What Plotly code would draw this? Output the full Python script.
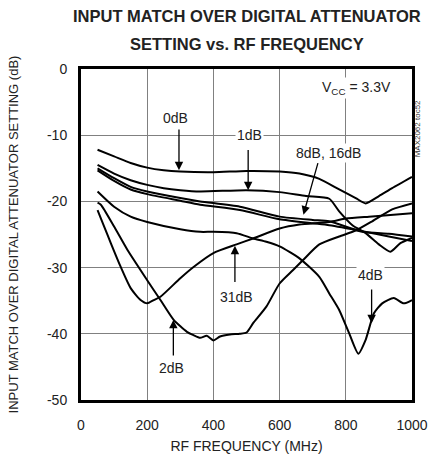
import plotly.graph_objects as go

# RF frequency (MHz) / input match (dB) per attenuator setting
freq_0db = [50, 100, 150, 200, 250, 300, 400, 500, 600, 660, 720, 780, 830, 860, 900, 940, 1000]
match_0db = [-12.2, -13.2, -14.2, -14.9, -15.3, -15.5, -15.6, -15.4, -15.5, -15.8, -16.6, -18.2, -19.5, -20.3, -19.2, -18.0, -16.3]

freq_1db = [50, 100, 150, 200, 250, 300, 360, 500, 600, 680, 750, 780, 820, 860, 900, 935, 965, 1000]
match_1db = [-14.5, -15.8, -16.8, -17.5, -18.0, -18.3, -18.5, -18.3, -18.6, -19.2, -19.6, -21.5, -23.6, -24.8, -26.5, -27.6, -26.3, -25.5]

freq_8db = [50, 100, 150, 200, 300, 360, 480, 600, 700, 750, 850, 930, 1000]
match_8db = [-15.0, -16.5, -17.8, -18.5, -19.5, -20.0, -20.8, -22.3, -22.8, -23.0, -24.6, -24.9, -25.3]

freq_16db = [50, 100, 150, 200, 300, 360, 480, 600, 700, 750, 850, 930, 1000]
match_16db = [-15.3, -16.9, -18.2, -18.9, -19.9, -20.5, -21.3, -22.7, -23.3, -23.6, -24.5, -25.3, -26.0]

freq_2db = [50, 60, 100, 140, 200, 240, 280, 320, 340, 360, 380, 400, 420, 450, 480, 500, 520, 560, 600,
            640, 670, 720, 780, 830, 880, 940, 1000]
match_2db = [-20.2, -20.5, -23.8, -27.3, -31.9, -34.9, -37.9, -39.7, -40.2, -40.6, -40.3, -41.0, -40.4, -40.1,
             -40.0, -39.8, -38.4, -35.9, -32.4, -30.4, -28.9, -26.5, -25.3, -24.4, -23.0, -21.2, -20.3]

freq_31db = [50, 70, 90, 120, 150, 180, 200, 220, 240, 300, 340, 400, 470, 520, 600, 660, 750, 800, 870, 1000]
match_31db = [-21.3, -23.8, -26.3, -29.9, -33.1, -34.9, -35.4, -34.9, -34.4, -31.6, -29.9, -27.8, -26.5, -25.6,
              -24.1, -23.5, -23.1, -22.6, -22.3, -21.8]

freq_4db = [50, 100, 150, 200, 300, 360, 400, 470, 520, 560, 600, 660, 720, 750, 780, 810, 838, 860, 885, 910,
            945, 975, 1000]
match_4db = [-18.5, -20.8, -22.3, -23.1, -24.2, -24.6, -24.6, -24.8, -25.6, -26.1, -26.8, -28.6, -31.4, -33.9,
             -36.4, -39.9, -43.0, -40.9, -36.9, -35.4, -34.6, -35.4, -34.9]

x_ticks = [0, 200, 400, 600, 800, 1000]
y_ticks = [0, -10, -20, -30, -40, -50]
y_tick_text = ["0", "-10", "-20", "-30", "-40", "-50"]

# curve labels: text, text position, arrow tail, arrow tip
labels = [
    ("0dB", 284, -7.4, 296, -8.9, 296, -15.3),
    ("1dB", 510, -10.0, 505, -12.0, 505, -18.3),
    ("8dB, 16dB", 747, -12.7, 717, -14.0, 672, -22.0),
    ("31dB", 470, -34.4, 465, -32.4, 465, -26.7),
    ("2dB", 274, -45.2, 279, -43.5, 279, -37.9),
    ("4dB", 876, -31.1, 878, -33.1, 878, -38.4),
]

FONT = "Liberation Sans, Arial, sans-serif"

series = [
    (freq_0db, match_0db), (freq_1db, match_1db), (freq_8db, match_8db), (freq_16db, match_16db),
    (freq_2db, match_2db), (freq_31db, match_31db), (freq_4db, match_4db),
]

fig = go.Figure()
for fx, fy in series:
    fig.add_trace(go.Scatter(x=fx, y=fy, mode="lines",
                             line=dict(color="black", width=2, shape="spline", smoothing=0.6),
                             showlegend=False, hoverinfo="skip"))

annotations = []
for text, tx, ty, ax, ay, hx, hy in labels:
    annotations.append(dict(x=hx, y=hy, ax=ax, ay=ay, xref="x", yref="y", axref="x", ayref="y",
                            text="", showarrow=True, arrowhead=2, arrowsize=1.3, arrowwidth=1.3,
                            arrowcolor="black"))
    annotations.append(dict(x=tx, y=ty, xref="x", yref="y", text=text, showarrow=False,
                            bgcolor="white", borderpad=1, font=dict(size=14, color="#222")))

annotations.append(dict(x=833, y=-2.9, xref="x", yref="y", text="V<sub>CC</sub> = 3.3V", showarrow=False,
                        bgcolor="white", font=dict(size=14, color="#222")))
annotations.append(dict(x=1.035, y=0.91, xref="paper", yref="paper", text="MAX2062 toc52", textangle=-90,
                        showarrow=False, font=dict(size=8, color="#333")))

# two-line bold title, spaced like the datasheet
for line, ypos in [("INPUT MATCH OVER DIGITAL ATTENUATOR", 1.160), ("SETTING vs. RF FREQUENCY", 1.0755)]:
    annotations.append(dict(x=0.50, y=ypos, xref="paper", yref="paper", text=f"<b>{line}</b>",
                            showarrow=False, xanchor="center", yanchor="middle",
                            font=dict(family=FONT, size=16.5, color="#222")))

fig.update_layout(
    width=430, height=462,
    margin=dict(l=81, r=18, t=69, b=62),
    paper_bgcolor="white", plot_bgcolor="white",
    font=dict(family=FONT, size=14, color="#222"),
    annotations=annotations,
)
fig.update_xaxes(range=[0, 1000], tickvals=x_ticks, showgrid=True, gridcolor="#808080", gridwidth=1,
                 showline=True, linecolor="black", linewidth=3, mirror=True, zeroline=False, ticks="",
                 automargin=False, ticklabelstandoff=10,
                 title=dict(text="RF FREQUENCY (MHz)", standoff=10, font=dict(size=14)))
fig.update_yaxes(range=[-50, 0], tickvals=y_ticks, ticktext=y_tick_text, showgrid=True, gridcolor="#808080",
                 gridwidth=1, showline=True, linecolor="black", linewidth=3, mirror=True, zeroline=False,
                 ticks="", ticklabelstandoff=8, automargin=False,
                 title=dict(text="INPUT MATCH OVER DIGITAL ATTENUATOR SETTING (dB)", standoff=26,
                            font=dict(size=13)))

fig.write_html("out.html", config={"displayModeBar": False},
               post_script="document.body.style.margin='0';")
